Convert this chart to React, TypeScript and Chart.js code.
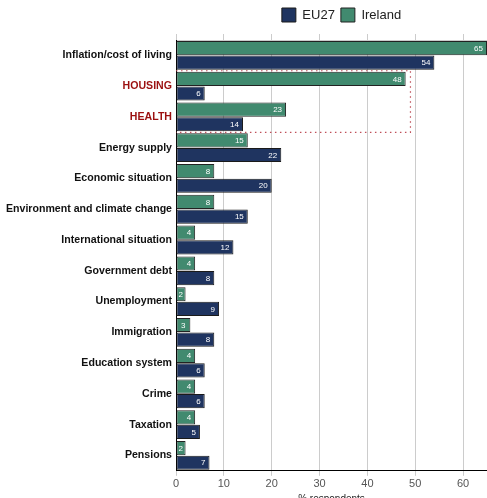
import React, { useEffect, useRef } from "react";
import { Chart, registerables } from "chart.js";

Chart.register(...registerables);

const categories = [
  "Inflation/cost of living",
  "HOUSING",
  "HEALTH",
  "Energy supply",
  "Economic situation",
  "Environment and climate change",
  "International situation",
  "Government debt",
  "Unemployment",
  "Immigration",
  "Education system",
  "Crime",
  "Taxation",
  "Pensions",
];
const irelandValues = [65, 48, 23, 15, 8, 8, 4, 4, 2, 3, 4, 4, 4, 2];
const eu27Values = [54, 6, 14, 22, 20, 15, 12, 8, 9, 8, 6, 6, 5, 7];
const highlighted = ["HOUSING", "HEALTH"];
const xTicks = [0, 10, 20, 30, 40, 50, 60];
const highlightBoxValue = 49;

const GREEN = "#418a6f";
const NAVY = "#1f3460";
const RED = "#9b1010";

const valueLabels = {
  id: "valueLabels",
  afterDatasetsDraw(chart: any) {
    const ctx = chart.ctx;
    ctx.save();
    ctx.font = "8px 'Liberation Sans', Arial, sans-serif";
    ctx.fillStyle = "#ffffff";
    ctx.textAlign = "right";
    ctx.textBaseline = "middle";
    chart.data.datasets.forEach((ds: any, i: number) => {
      const meta = chart.getDatasetMeta(i);
      meta.data.forEach((bar: any, j: number) => {
        const w = bar.x - bar.base;
        const xPos = w < 14 ? bar.base + w / 2 + 2 : bar.x - 4;
        ctx.fillText(String(ds.data[j]), xPos, bar.y + 0.5);
      });
    });
    ctx.restore();
  },
};

const highlightBox = {
  id: "highlightBox",
  afterDatasetsDraw(chart: any) {
    const ctx = chart.ctx;
    const x = chart.scales.x;
    const y = chart.scales.y;
    const i0 = categories.indexOf("HOUSING");
    const i1 = categories.indexOf("HEALTH");
    const step = y.getPixelForValue(1) - y.getPixelForValue(0);
    const top = y.getPixelForValue(i0) - step / 2;
    const bottom = y.getPixelForValue(i1) + step / 2;
    const left = x.getPixelForValue(0);
    const right = x.getPixelForValue(highlightBoxValue);
    ctx.save();
    ctx.strokeStyle = "#c0505a";
    ctx.lineWidth = 1.2;
    ctx.setLineDash([1.5, 3.5]);
    ctx.beginPath();
    ctx.moveTo(left, top);
    ctx.lineTo(right, top);
    ctx.lineTo(right, bottom);
    ctx.lineTo(left, bottom);
    ctx.stroke();
    ctx.restore();
  },
};

const legendShift = {
  id: "legendShift",
  afterLayout(chart: any) {
    if (chart.legend) {
      chart.legend.left += 10;
      chart.legend.right += 10;
      chart.legend.top -= 2;
      chart.legend.bottom -= 2;
    }
  },
};

export default function App() {
  const ref = useRef<HTMLCanvasElement>(null);
  useEffect(() => {
    if (!ref.current) return;
    const chart = new Chart(ref.current, {
      type: "bar",
      data: {
        labels: categories,
        datasets: [
          {
            label: "Ireland",
            data: irelandValues,
            backgroundColor: GREEN,
            borderColor: "#222222",
            borderWidth: 1,
            borderSkipped: false,
            categoryPercentage: 0.95,
            barPercentage: 0.97,
          },
          {
            label: "EU27",
            data: eu27Values,
            backgroundColor: NAVY,
            borderColor: "#1a1a1a",
            borderWidth: 1,
            borderSkipped: false,
            categoryPercentage: 0.95,
            barPercentage: 0.97,
          },
        ],
      },
      options: {
        indexAxis: "y",
        animation: false,
        responsive: false,
        maintainAspectRatio: false,
        layout: { padding: { left: 2, right: 0, top: 4, bottom: 0 } },
        plugins: {
          legend: {
            position: "top",
            reverse: true,
            fullSize: false,
            labels: {
              boxWidth: 14,
              boxHeight: 14,
              padding: 6,
              color: "#222",
              font: { size: 13, family: "'Liberation Sans', Arial, sans-serif" },
            },
          },
          tooltip: { enabled: false },
        },
        scales: {
          x: {
            type: "linear",
            position: "bottom",
            min: 0,
            max: 65,
            afterBuildTicks: (axis: any) => {
              axis.ticks = xTicks.map((v) => ({ value: v }));
            },
            grid: { color: "#cccccc", lineWidth: 1, drawTicks: true, tickLength: 5, tickColor: "#cccccc" },
            border: { display: true, color: "#000000", width: 1 },
            ticks: {
              color: "#555555",
              padding: 2,
              font: { size: 11, family: "'Liberation Sans', Arial, sans-serif" },
            },
            title: {
              display: true,
              text: "% respondents",
              color: "#222",
              padding: { top: 0, bottom: 0 },
              font: { size: 10, family: "'Liberation Sans', Arial, sans-serif" },
            },
          },
          x2: {
            type: "linear",
            position: "top",
            min: 0,
            max: 65,
            afterBuildTicks: (axis: any) => {
              axis.ticks = xTicks.map((v) => ({ value: v }));
            },
            grid: { drawOnChartArea: false, drawTicks: true, tickLength: 6, color: "#cccccc" },
            border: { display: true, color: "#cccccc" },
            ticks: { display: false },
          },
          y: {
            type: "category",
            grid: { display: false, drawTicks: false },
            border: { display: true, color: "#000000", width: 1 },
            ticks: {
              padding: 4,
              autoSkip: false,
              color: (c: any) => (highlighted.includes(categories[c.index]) ? RED : "#111111"),
              font: { size: 10.6, weight: "bold", family: "'Liberation Sans', Arial, sans-serif" },
            },
          },
        },
      },
      plugins: [valueLabels, highlightBox, legendShift],
    } as any);
    return () => chart.destroy();
  }, []);
  return (
    <div style={{ position: "fixed", left: 0, top: 0, width: 487, height: 498, overflow: "hidden", background: "#fff" }}>
      <canvas ref={ref} width={487} height={505} style={{ display: "block" }} />
    </div>
  );
}
